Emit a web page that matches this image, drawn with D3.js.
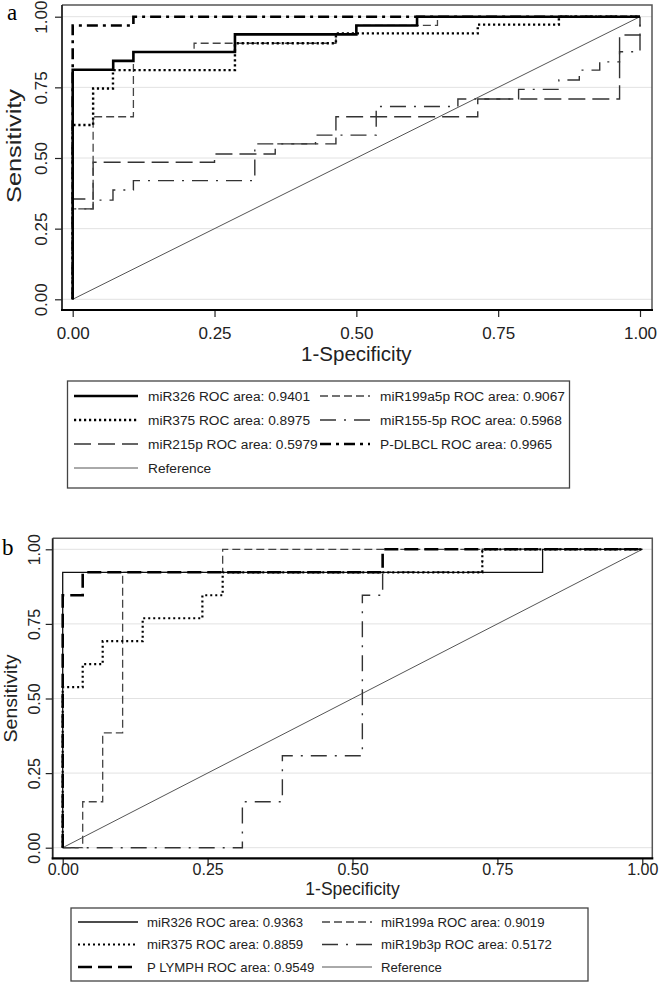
<!DOCTYPE html>
<html><head><meta charset="utf-8">
<script src="https://cdn.jsdelivr.net/npm/d3@7"></script>
<style>body{margin:0;background:#fff}svg{display:block}</style>
</head><body><svg id="c" width="659" height="997"></svg>
<script>
// ---------- data (fpr, tpr vertices of ROC step curves) ----------
const tickValues = [0, 0.25, 0.5, 0.75, 1];
const tickLabels = ["0.00", "0.25", "0.50", "0.75", "1.00"];

// panel a
const a_miR326 = [[0,0],[0,0.8125],[0.0714,0.8125],[0.0714,0.84375],[0.107,0.84375],[0.107,0.875],[0.286,0.875],[0.286,0.9375],[0.5,0.9375],[0.5,0.969],[0.607,0.969],[0.607,1],[1,1]];
const a_miR375 = [[0,0],[0,0.617],[0.036,0.617],[0.036,0.746],[0.071,0.746],[0.071,0.811],[0.286,0.811],[0.286,0.906],[0.464,0.906],[0.464,0.941],[0.714,0.941],[0.714,0.972],[0.857,0.972],[0.857,1],[1,1]];
const a_miR215p = [[0,0],[0,0.355],[0.036,0.355],[0.036,0.485],[0.25,0.485],[0.25,0.514],[0.357,0.514],[0.357,0.55],[0.464,0.55],[0.464,0.646],[0.714,0.646],[0.714,0.709],[0.964,0.709],[0.964,0.935],[1,0.935],[1,1]];
const a_miR199a5p = [[0,0],[0,0.32],[0.036,0.32],[0.036,0.646],[0.107,0.646],[0.107,0.875],[0.214,0.875],[0.214,0.906],[0.464,0.906],[0.464,0.9375],[0.5,0.9375],[0.5,0.969],[0.643,0.969],[0.643,1],[1,1]];
const a_miR155 = [[0,0],[0,0.32],[0.036,0.32],[0.036,0.351],[0.071,0.351],[0.071,0.387],[0.107,0.387],[0.107,0.42],[0.321,0.42],[0.321,0.55],[0.428,0.55],[0.428,0.581],[0.535,0.581],[0.535,0.682],[0.679,0.682],[0.679,0.709],[0.786,0.709],[0.786,0.743],[0.857,0.743],[0.857,0.776],[0.893,0.776],[0.893,0.811],[0.929,0.811],[0.929,0.84],[0.964,0.84],[0.964,0.876],[1,0.876],[1,1]];
const a_PDLBCL = [[0,0],[0,0.969],[0.107,0.969],[0.107,1],[1,1]];
const reference = [[0,0],[1,1]];

// panel b
const b_miR326 = [[0,0],[0,0.923],[0.828,0.923],[0.828,1],[1,1]];
const b_miR375 = [[0,0],[0,0.538],[0.0345,0.538],[0.0345,0.615],[0.069,0.615],[0.069,0.692],[0.138,0.692],[0.138,0.769],[0.241,0.769],[0.241,0.846],[0.276,0.846],[0.276,0.923],[0.724,0.923],[0.724,1],[1,1]];
const b_PLYMPH = [[0,0],[0,0.846],[0.0345,0.846],[0.0345,0.923],[0.552,0.923],[0.552,1],[1,1]];
const b_miR199a = [[0,0],[0.0345,0],[0.0345,0.154],[0.069,0.154],[0.069,0.385],[0.1034,0.385],[0.1034,0.923],[0.276,0.923],[0.276,1],[1,1]];
const b_miR19b3p = [[0,0],[0.31,0],[0.31,0.154],[0.379,0.154],[0.379,0.308],[0.517,0.308],[0.517,0.846],[0.552,0.846],[0.552,0.923],[0.724,0.923],[0.724,1],[1,1]];

const a_names = ["miR326 ROC area: 0.9401","miR375 ROC area: 0.8975","miR215p ROC area: 0.5979","Reference","miR199a5p ROC area: 0.9067","miR155-5p ROC area: 0.5968","P-DLBCL ROC area: 0.9965"];
const b_names = ["miR326 ROC area: 0.9363","miR375 ROC area: 0.8859","P LYMPH ROC area: 0.9549","miR199a ROC area: 0.9019","miR19b3p ROC area: 0.5172","Reference"];

// ---------- styles ----------
const ST = {
  solidHeavy: {stroke:"#000", w:2.6, dash:null},
  solidThin: {stroke:"#111", w:1.3, dash:null},
  dotted: {stroke:"#000", w:2.4, dash:"2.2,2.8"},
  dottedB: {stroke:"#000", w:2.2, dash:"2,3"},
  longDash: {stroke:"#333", w:1.4, dash:"17,7"},
  shortDash: {stroke:"#444", w:1.3, dash:"8,4"},
  dashDot: {stroke:"#333", w:1.4, dash:"16,8,2,8"},
  heavyDashDot: {stroke:"#000", w:2.6, dash:"11,5,3,5"},
  heavyLong: {stroke:"#000", w:2.6, dash:"14,6"},
  ref: {stroke:"#555", w:1, dash:null}
};

const FONT = "'Liberation Sans', Arial, sans-serif";
const svg = d3.select("#c");

function panel(cfg){
  const g = svg.append("g");
  const x = d3.scaleLinear().domain([0,1]).range([cfg.x0, cfg.x1]);
  const y = d3.scaleLinear().domain([0,1]).range([cfg.y0, cfg.y1]);
  // grid
  g.selectAll("line.grid").data(tickValues).join("line")
    .attr("x1", cfg.L).attr("x2", cfg.R)
    .attr("y1", d=>y(d)).attr("y2", d=>y(d))
    .attr("stroke", "#e2e2e2").attr("stroke-width", 1);
  // frame top/right
  g.append("path").attr("d", `M${cfg.L},${cfg.T}H${cfg.R}V${cfg.B}`)
    .attr("fill","none").attr("stroke","#555").attr("stroke-width",1.5);
  // curves
  const line = d3.line().x(d=>x(d[0])).y(d=>y(d[1]));
  cfg.series.forEach(s=>{
    g.append("path").attr("d", line(s.data)).attr("fill","none")
      .attr("stroke", s.st.stroke).attr("stroke-width", s.st.w)
      .attr("stroke-dasharray", s.st.dash).attr("stroke-linejoin","miter");
  });
  // axes
  const ax = g.append("g").attr("transform", `translate(0,${cfg.B})`)
    .call(d3.axisBottom(x).tickValues(tickValues).tickFormat((d,i)=>tickLabels[i]).tickSize(cfg.tick).tickSizeOuter(0));
  const ay = g.append("g").attr("transform", `translate(${cfg.L},0)`)
    .call(d3.axisLeft(y).tickValues(tickValues).tickFormat((d,i)=>tickLabels[i]).tickSize(cfg.tick).tickSizeOuter(0));
  [ax, ay].forEach(a=>{
    a.select(".domain").remove();
    a.selectAll(".tick line").attr("stroke","#222").attr("stroke-width",1.2);
    a.selectAll("text").attr("font-family",FONT).attr("font-size",cfg.tickFs).attr("fill","#222");
  });
  ay.selectAll("text").attr("x",0).attr("dy",0).attr("text-anchor","middle")
    .attr("transform", `translate(${-cfg.ypad},0) rotate(-90)`);
  ax.selectAll("text").attr("dy",0).attr("y", cfg.xlabBase - cfg.B);
  // axis lines
  g.append("line").attr("x1",cfg.L).attr("x2",cfg.L).attr("y1",cfg.T).attr("y2",cfg.B+1)
    .attr("stroke","#222").attr("stroke-width",1.8);
  g.append("line").attr("x1",cfg.L-1).attr("x2",cfg.R+1).attr("y1",cfg.B).attr("y2",cfg.B)
    .attr("stroke","#000").attr("stroke-width",2.2);
  // titles
  g.append("text").attr("x",(cfg.x0+cfg.x1)/2).attr("y",cfg.xtBase).attr("text-anchor","middle")
    .attr("font-family",FONT).attr("font-size",cfg.xtFs).attr("fill","#222").text("1-Specificity");
  g.append("text").attr("transform",`translate(${cfg.ytBase},${cfg.ytY}) rotate(-90)`).attr("text-anchor","middle")
    .attr("font-family",FONT).attr("font-size",cfg.ytFs).attr("fill","#222")
    .attr("textLength",cfg.ytLen).attr("lengthAdjust","spacingAndGlyphs").text("Sensitivity");
  g.append("text").attr("x",cfg.lx).attr("y",cfg.ly).attr("font-family","'Liberation Serif', 'Times New Roman', serif")
    .attr("font-size",23).attr("fill","#000").text(cfg.letter);
  // legend
  const lg = cfg.legend;
  g.append("rect").attr("x",lg.x).attr("y",lg.y).attr("width",lg.w).attr("height",lg.h)
    .attr("fill","#fff").attr("stroke","#444").attr("stroke-width",1.3);
  lg.items.forEach(it=>{
    const cy = lg.rows[it.row];
    const c = lg.cols[it.col];
    g.append("line").attr("x1",c.s0).attr("x2",c.s1).attr("y1",cy).attr("y2",cy)
      .attr("stroke",it.st.stroke).attr("stroke-width",it.st.w).attr("stroke-dasharray",it.st.dash);
    g.append("text").attr("x",c.t).attr("y",cy+4.8).attr("font-family",FONT)
      .attr("font-size",lg.fs).attr("fill","#222").text(it.name);
  });
}

panel({
  letter:"a", lx:7, ly:19.5,
  L:62, R:652, T:5, B:310, x0:72.7, x1:640, y0:299.3, y1:16.7,
  tick:7, ypad:15.5, tickFs:17, xlabBase:338.5,
  xtBase:361, xtFs:20.5, ytBase:21, ytY:146, ytFs:20, ytLen:114,
  series:[
    {data:reference, st:ST.ref},
    {data:a_miR155, st:ST.dashDot},
    {data:a_miR215p, st:ST.longDash},
    {data:a_miR199a5p, st:ST.shortDash},
    {data:a_miR375, st:ST.dotted},
    {data:a_PDLBCL, st:ST.heavyDashDot},
    {data:a_miR326, st:ST.solidHeavy}
  ],
  legend:{x:67.5, y:381, w:502, h:107, fs:13.7,
    rows:[396, 420, 444, 468],
    cols:[{s0:74,s1:138,t:148},{s0:320,s1:370,t:380}],
    items:[
      {row:0,col:0,name:a_names[0],st:ST.solidHeavy},
      {row:1,col:0,name:a_names[1],st:ST.dotted},
      {row:2,col:0,name:a_names[2],st:ST.longDash},
      {row:3,col:0,name:a_names[3],st:ST.ref},
      {row:0,col:1,name:a_names[4],st:ST.shortDash},
      {row:1,col:1,name:a_names[5],st:ST.dashDot},
      {row:2,col:1,name:a_names[6],st:ST.heavyDashDot}
    ]}
});

panel({
  letter:"b", lx:2, ly:555,
  L:52.7, R:652.3, T:538.3, B:858.3, x0:62.7, x1:642.3, y0:847.7, y1:549.3,
  tick:7, ypad:13, tickFs:16, xlabBase:875,
  xtBase:895, xtFs:17.5, ytBase:17, ytY:698.5, ytFs:18, ytLen:88,
  series:[
    {data:reference, st:ST.ref},
    {data:b_miR19b3p, st:ST.dashDot},
    {data:b_miR199a, st:ST.shortDash},
    {data:b_miR326, st:ST.solidThin},
    {data:b_miR375, st:ST.dottedB},
    {data:b_PLYMPH, st:ST.heavyLong}
  ],
  legend:{x:71, y:908, w:517, h:73, fs:13.2,
    rows:[922, 944.5, 967],
    cols:[{s0:78,s1:138,t:147},{s0:322,s1:372,t:381}],
    items:[
      {row:0,col:0,name:b_names[0],st:ST.solidThin},
      {row:1,col:0,name:b_names[1],st:ST.dottedB},
      {row:2,col:0,name:b_names[2],st:ST.heavyLong},
      {row:0,col:1,name:b_names[3],st:ST.shortDash},
      {row:1,col:1,name:b_names[4],st:ST.dashDot},
      {row:2,col:1,name:b_names[5],st:ST.ref}
    ]}
});
</script></body></html>
